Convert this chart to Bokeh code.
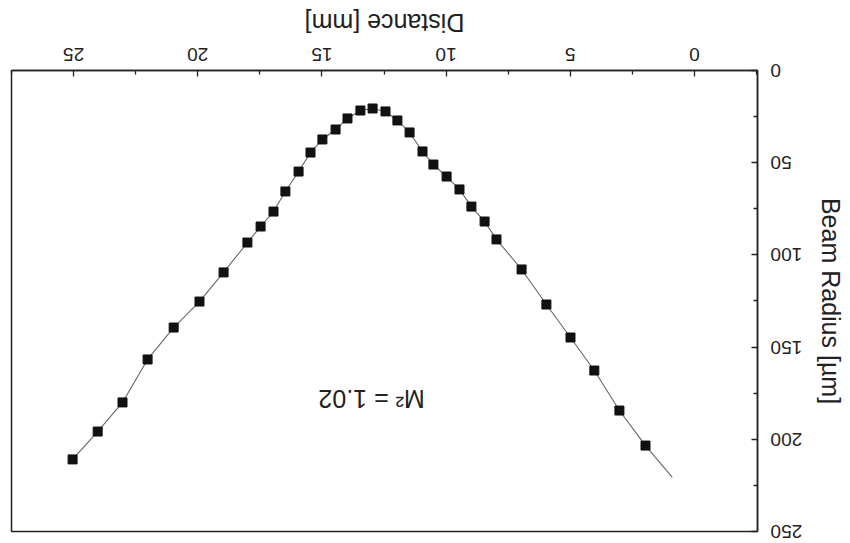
from bokeh.plotting import figure
from bokeh.models import Range1d, FixedTicker
from bokeh.embed import file_html
from bokeh.resources import INLINE
from bokeh.core.properties import value

distance_mm = [25.04, 24.03, 23.03, 22.02, 20.97, 19.93, 18.96, 18.00, 17.47, 16.95,
               16.47, 15.94, 15.46, 14.98, 14.45, 13.97, 13.45, 12.96, 12.44, 11.96,
               11.47, 10.95, 10.51, 9.98, 9.46, 8.98, 8.45, 7.97, 6.96, 5.96,
               4.99, 4.03, 3.02, 1.97]
radius_um = [210.9, 195.8, 180.0, 156.7, 139.4, 125.3, 109.5, 93.3, 84.6, 76.5,
             65.6, 54.8, 44.5, 37.4, 32.0, 26.0, 21.7, 20.6, 22.2, 27.1,
             33.6, 43.9, 51.0, 57.5, 64.5, 73.8, 81.9, 91.6, 107.9, 126.9,
             144.8, 162.7, 184.4, 203.4]

# Fitted curve: passes through the measured points and runs on to ~0.9 mm
fit_end_distance_mm = 0.89
fit_end_radius_um = 220.7
fit_distance_mm = distance_mm + [fit_end_distance_mm]
fit_radius_um = radius_um + [fit_end_radius_um]

x_ticks = [0, 5, 10, 15, 20, 25]
y_ticks = [0, 50, 100, 150, 200, 250]
x_title = "Distance [mm]"
y_title = "Beam Radius [\u00b5m]"
annotation = "M\u00b2 = 1.02"

FONT = "Liberation Sans"
INK = "#222222"

# The reference is the usual chart turned upside down: build it normally,
# then turn the whole plot by 180 degrees.
p = figure(width=850, height=543, output_backend="svg", toolbar_location=None,
           x_range=Range1d(-2.54, 27.5), y_range=Range1d(0, 250),
           min_border_left=92, min_border_right=12, min_border_top=11, min_border_bottom=71)
p.styles = {"transform": "rotate(180deg)", "transform-origin": "50% 50%"}

p.xgrid.visible = False
p.ygrid.visible = False
p.outline_line_color = INK
p.outline_line_width = 1.5
p.background_fill_color = "white"
p.border_fill_color = "white"

xa = p.xaxis[0]
xa.ticker = FixedTicker(ticks=x_ticks, minor_ticks=[x + 2.5 for x in [-5] + x_ticks])
xa.axis_label = x_title
xa.major_label_standoff = 10
xa.axis_label_standoff = 8

ya = p.yaxis[0]
ya.ticker = FixedTicker(ticks=y_ticks, minor_ticks=[y + 25 for y in y_ticks])
ya.axis_label = y_title
ya.major_label_standoff = 13
ya.axis_label_standoff = 12

for ax in (xa, ya):
    ax.axis_line_color = INK
    ax.axis_line_width = 1.5
    ax.major_tick_in = 6
    ax.major_tick_out = 0
    ax.minor_tick_in = 4
    ax.minor_tick_out = 0
    ax.major_tick_line_color = INK
    ax.minor_tick_line_color = INK
    ax.major_tick_line_width = 1.3
    ax.minor_tick_line_width = 1.3
    ax.major_label_text_font = FONT
    ax.major_label_text_font_size = "19px"
    ax.major_label_text_color = INK
    ax.axis_label_text_font = FONT
    ax.axis_label_text_font_size = "25px"
    ax.axis_label_text_font_style = "normal"
    ax.axis_label_text_color = INK

p.line(fit_distance_mm, fit_radius_um, line_color="#666666", line_width=1.1)
p.scatter(distance_mm, radius_um, marker="square", size=9,
          fill_color="#111111", line_color="#111111")

p.text(x=[13.0], y=[178.4], text=[annotation],
       text_font=value(FONT), text_font_size="25px", text_color=INK,
       text_align="center", text_baseline="middle")

open("out.html", "w").write(file_html(p, INLINE))
